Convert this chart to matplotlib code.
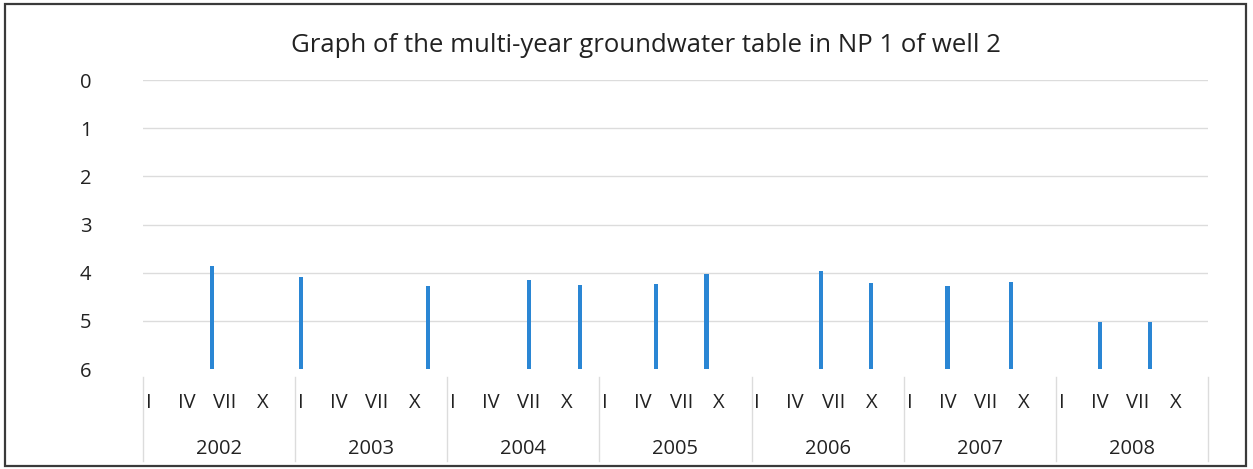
import numpy as np
import matplotlib
matplotlib.use("Agg")
import matplotlib.pyplot as plt
from matplotlib.patches import Rectangle

plt.rcParams['font.family'] = ['Open Sans', 'DejaVu Sans']

years = ['2002', '2003', '2004', '2005', '2006', '2007', '2008']
months = ['I', 'IV', 'VII', 'X']

# depth to groundwater (m), one value per month slot, None where not measured
depth_a = [None, None, 3.86, None,  None, None, None, None,  None, None, None, None,
           None, None, None, 4.02,  None, None, 3.97, None,  None, None, None, 4.19,
           None, None, None, None]
depth_b = [None, None, None, None,  4.09, None, None, None,  None, None, 4.16, None,
           None, None, None, None,  None, None, None, 4.21,  None, 4.28, None, None,
           None, 5.03, None, None]
depth_c = [None, None, None, None,  None, None, None, 4.28,  None, None, None, 4.26,
           None, 4.23, None, None,  None, None, None, None,  None, None, None, None,
           None, None, 5.03, None]

y_ticks = [0, 1, 2, 3, 4, 5, 6]
y_bottom = 6

text_col = '#222222'
bar_col = '#2a86d4'
grid_col = '#dcdcdc'
fs = 14.5

fig = plt.figure(figsize=(12.53, 4.69), dpi=100)
ax = fig.add_axes([143 / 1253, 1 - 369 / 469, 1065 / 1253, 289 / 469])

n_cat = len(years) * len(months)
pos = np.arange(n_cat)

# three series side by side within each month slot
for series, shift in ((depth_a, -1 / 3), (depth_b, 0.0), (depth_c, 1 / 3)):
    xs = [p + shift for p, v in zip(pos, series) if v is not None]
    vals = [v for v in series if v is not None]
    ax.bar(xs, [y_bottom - v for v in vals], bottom=vals, width=0.11,
           color=bar_col, zorder=3)

ax.set_xlim(-0.15, n_cat - 0.15)
ax.set_ylim(y_bottom, 0)
ax.set_yticks(y_ticks)
ax.set_yticklabels([str(t) for t in y_ticks], fontsize=fs, color=text_col)
ax.tick_params(axis='y', length=0, pad=37)
ax.set_xticks([])
for t in y_ticks[:-1]:
    ax.axhline(t, color=grid_col, lw=1, zorder=1)
for s in ax.spines.values():
    s.set_visible(False)

# two-level category axis: months, then years with separators
trans = ax.get_xaxis_transform()
for i, p in enumerate(pos):
    ax.text(p, -0.118, months[i % len(months)], transform=trans, ha='center',
            va='center', fontsize=fs, color=text_col, clip_on=False)
for j, yr in enumerate(years):
    x0 = j * len(months) - 0.15
    ax.text(x0 + len(months) / 2, -0.277, yr, transform=trans, ha='center',
            va='center', fontsize=fs, color=text_col, clip_on=False)
for j in range(len(years) + 1):
    x0 = j * len(months) - 0.15
    ax.plot([x0, x0], [-0.028, -0.32], transform=trans, color=grid_col,
            lw=1, clip_on=False)

fig.text(646 / 1253, 1 - 45 / 469, 'Graph of the multi-year groundwater table in NP 1 of well 2',
         ha='center', va='center', fontsize=18.5, color=text_col)

fig.patches.append(Rectangle((5 / 1253, 3 / 469), 1241 / 1253, 462 / 469,
                             transform=fig.transFigure, fill=False,
                             edgecolor='#3a3a3a', lw=1.6))

fig.savefig('out.png', dpi=100, facecolor='white')
